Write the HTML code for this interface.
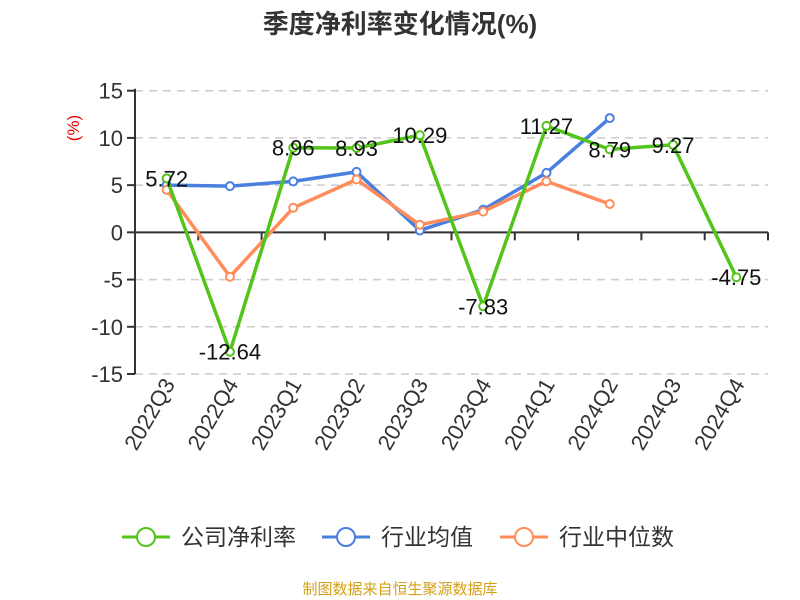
<!DOCTYPE html>
<html><head><meta charset="utf-8"><style>
body{margin:0;background:#fff;}
svg{display:block;font-family:"Liberation Sans","Noto Sans CJK SC",sans-serif;}
</style></head><body>
<svg id="c" width="800" height="600">
<text x="400" y="33" text-anchor="middle" font-size="26" font-weight="bold" fill="#333">季度净利率变化情况(%)</text>
<text transform="translate(79,128) rotate(-90)" text-anchor="middle" font-size="17" fill="#e00">(%)</text>
<g id="grid"></g><g id="axes"></g><g id="series"></g><g id="labels"></g>
<g>
<g><line x1="122" y1="537" x2="170" y2="537" stroke="#52c41a" stroke-width="3"/><circle cx="146" cy="537" r="9" fill="#fff" stroke="#52c41a" stroke-width="2"/><text x="181" y="545" font-size="23" fill="#333">公司净利率</text></g>
<g><line x1="322" y1="537" x2="370" y2="537" stroke="#4a7fe0" stroke-width="3"/><circle cx="346" cy="537" r="9" fill="#fff" stroke="#4a7fe0" stroke-width="2"/><text x="381" y="545" font-size="23" fill="#333">行业均值</text></g>
<g><line x1="500" y1="537" x2="548" y2="537" stroke="#ff8c5a" stroke-width="3"/><circle cx="524" cy="537" r="9" fill="#fff" stroke="#ff8c5a" stroke-width="2"/><text x="559" y="545" font-size="23" fill="#333">行业中位数</text></g>
</g>
<text x="400" y="594" text-anchor="middle" font-size="15" fill="#d4a017">制图数据来自恒生聚源数据库</text>
</svg>
<script>
const categories=["2022Q3","2022Q4","2023Q1","2023Q2","2023Q3","2023Q4","2024Q1","2024Q2","2024Q3","2024Q4"];
const companyValues=[5.72,-12.64,8.96,8.93,10.29,-7.83,11.27,8.79,9.27,-4.75];
const industryAvg=[5.0,4.9,5.4,6.4,0.2,2.4,6.3,12.1];
const industryMedian=[4.5,-4.7,2.6,5.6,0.8,2.2,5.4,3.0];
const yTicks=[15,10,5,0,-5,-10,-15];
const NS="http://www.w3.org/2000/svg";
const L=135,R=768,T=90.7,B=374;
const band=(R-L)/categories.length;
const x=i=>L+band*(i+0.5);
const y=v=>T+(15-v)/30*(B-T);
function mk(tag,attrs,parent,txt){const e=document.createElementNS(NS,tag);for(const k in attrs)e.setAttribute(k,attrs[k]);if(txt!=null)e.textContent=txt;document.getElementById(parent).appendChild(e);return e;}
yTicks.forEach(t=>{
 if(t!==0){const g=mk('line',{x1:L,x2:R,y1:y(t),y2:y(t),stroke:'#ccc','stroke-dasharray':'8,6','stroke-width':1.5},'grid');
 
 }
 const tk=mk('line',{x1:L-8,x2:L,y1:y(t),y2:y(t),stroke:'#333','stroke-width':2},'axes');
 
 
 const tl=mk('text',{x:L-12,y:y(t)+8,'text-anchor':'end','font-size':22,fill:'#333'},'axes',t);
 
 
});
const ya=mk('line',{x1:L,x2:L,y1:T-2,y2:B,stroke:'#333','stroke-width':2},'axes');


const xa=mk('line',{x1:L,x2:R,y1:y(0),y2:y(0),stroke:'#333','stroke-width':2},'axes');


categories.forEach((c,i)=>{
 const tk=mk('line',{x1:L+band*(i+1),x2:L+band*(i+1),y1:y(0),y2:y(0)+8,stroke:'#333','stroke-width':2},'axes');
 
 
 const tl=mk('text',{transform:`translate(${x(i)+9},${B+10}) rotate(-60)`,'text-anchor':'end','font-size':22,fill:'#333'},'axes',c);
 
 
});
function series(vals,color,name){
 const p=mk('polyline',{points:vals.map((v,i)=>x(i)+','+y(v)).join(' '),fill:'none',stroke:color,'stroke-width':3.5,'stroke-linejoin':'round'},'series');
 
 
 vals.forEach((v,i)=>{const c=mk('circle',{cx:x(i),cy:y(v),r:4,fill:'#fff',stroke:color,'stroke-width':2},'series');
 
 });
}
series(industryAvg,'#4a7fe0','industry-avg');
series(industryMedian,'#ff8c5a','industry-median');
series(companyValues,'#52c41a','company');
companyValues.forEach((v,i)=>{
 const t=mk('text',{x:x(i),y:y(v)+8,'text-anchor':'middle','font-size':22,fill:'#111'},'labels',v.toFixed(2));
 
 
});
</script>
</body></html>
